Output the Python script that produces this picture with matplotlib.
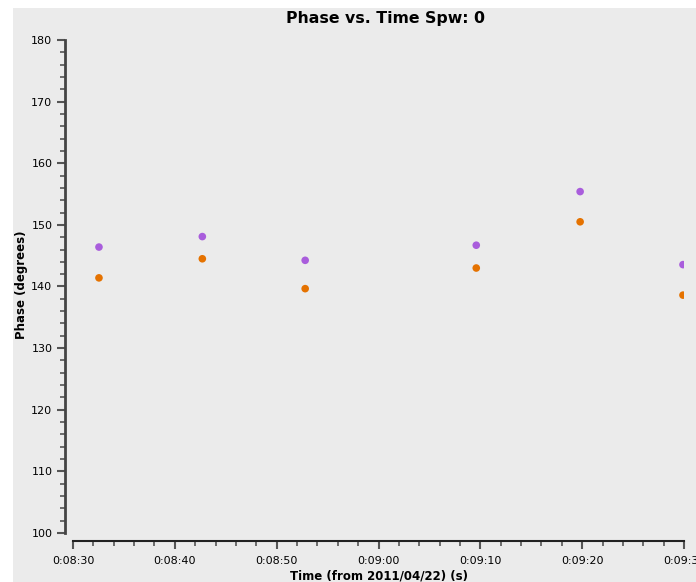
import matplotlib
matplotlib.use("Agg")
import matplotlib.pyplot as plt
from matplotlib.patches import Rectangle
from matplotlib.ticker import MultipleLocator, FuncFormatter

# time in seconds since 0:00:00 on 2011/04/22
times = [512.55, 522.7, 532.8, 549.6, 559.8, 569.9]
phase_purple = [146.4, 148.1, 144.25, 146.7, 155.4, 143.55]
phase_orange = [141.4, 144.5, 139.65, 143.0, 150.5, 138.6]

W, H = 696, 582
bg = '#ebebeb'

def hms(v, pos=None):
    v = int(round(v))
    return "%d:%02d:%02d" % (v // 3600, (v % 3600) // 60, v % 60)

fig = plt.figure(figsize=(W / 100, H / 100), dpi=100)
fig.patch.set_facecolor('white')
fig.patches.append(Rectangle((13 / W, 0), 1 - 13 / W, 1 - 8 / H, transform=fig.transFigure,
                             facecolor=bg, edgecolor='none', zorder=-5))

ax = fig.add_axes([73 / W, 1 - 533 / H, (684 - 73) / W, (533 - 40) / H])
ax.set_facecolor('none')
ax.set_zorder(2)

ax.scatter(times, phase_purple, s=30, color='#a95ddc', edgecolors='none', zorder=3)
ax.scatter(times, phase_orange, s=30, color='#e57200', edgecolors='none', zorder=3)

ax.set_xlim(510, 570)
ax.set_ylim(100, 180)

# axis lines sit a few pixels away from the data area
for s in ['top', 'right']:
    ax.spines[s].set_visible(False)
ax.spines['left'].set_position(('outward', 5.8))
ax.spines['bottom'].set_position(('outward', 5.8))
ax.spines['left'].set_linewidth(2)
ax.spines['bottom'].set_linewidth(1.5)
ax.spines['left'].set_color('#444444')
ax.spines['bottom'].set_color('#222222')

ax.xaxis.set_major_locator(MultipleLocator(10))
ax.xaxis.set_minor_locator(MultipleLocator(2))
ax.xaxis.set_major_formatter(FuncFormatter(hms))
ax.yaxis.set_major_locator(MultipleLocator(10))
ax.yaxis.set_minor_locator(MultipleLocator(2))

ax.tick_params(which='major', length=6, width=1.5, color='#555555', labelsize=8, pad=3)
ax.tick_params(axis='x', which='major', pad=4.5)
ax.tick_params(which='minor', length=3.3, width=1.2, color='#555555')

ax.set_xlabel('Time (from 2011/04/22) (s)', fontsize=8.5, fontweight='bold', labelpad=2.5)
fig.text(21.5 / W, 1 - 285 / H, 'Phase (degrees)', rotation=90, ha='center', va='center',
         fontsize=8.5, fontweight='bold')
fig.text(386 / W, 1 - 19 / H, 'Phase vs. Time Spw: 0', ha='center', va='center',
         fontsize=11.3, fontweight='bold')

fig.savefig('out.png', dpi=100, facecolor=fig.get_facecolor())
